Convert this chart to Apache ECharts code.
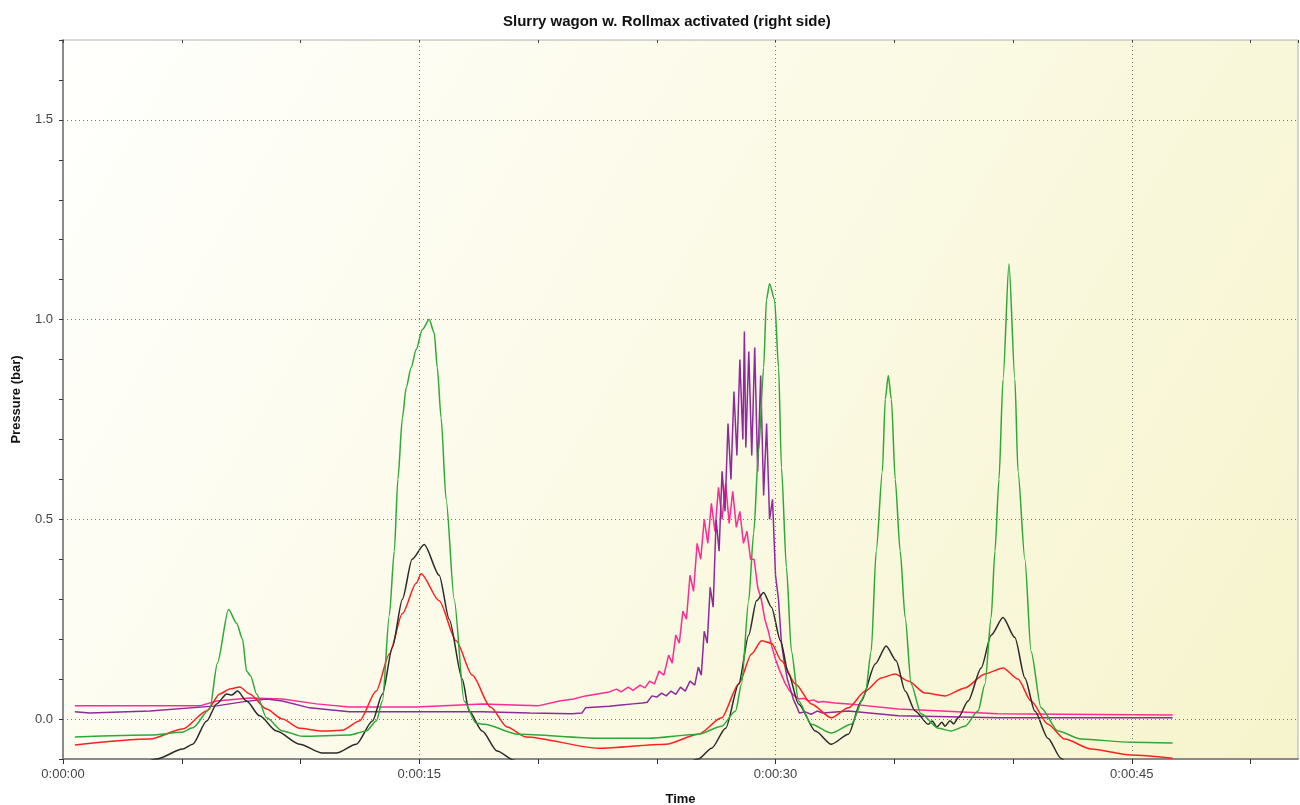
<!DOCTYPE html>
<html>
<head>
<meta charset="utf-8">
<title>Slurry wagon w. Rollmax activated (right side)</title>
<script src="https://cdn.jsdelivr.net/npm/echarts@6/dist/echarts.min.js"></script>
<style>
  html, body { margin: 0; padding: 0; background: #ffffff; }
  #main { width: 1300px; height: 805px; }
</style>
</head>
<body>
<div id="main"></div>
<script>
// time in seconds, pressure in bar
const greenPts = [
  [0.5, -0.045], [3.7, -0.04], [5.0, -0.033], [5.46, -0.022], [6.18, 0.025], [6.5, 0.14],
  [6.97, 0.274], [7.31, 0.24], [7.56, 0.20], [7.73, 0.12], [7.9, 0.108], [8.15, 0.063],
  [8.57, 0.003], [9.24, -0.03], [10.08, -0.043], [12.06, -0.04], [12.77, -0.03], [13.19, -0.005],
  [13.45, 0.045], [13.74, 0.26], [13.95, 0.42], [14.1, 0.60], [14.29, 0.754], [14.45, 0.83],
  [14.66, 0.88], [14.87, 0.925], [15.13, 0.975], [15.42, 1.0], [15.63, 0.967], [15.76, 0.88],
  [15.92, 0.754], [16.13, 0.55], [16.47, 0.30], [16.89, 0.045], [17.39, -0.01], [17.73, -0.013],
  [19.16, -0.038], [22.56, -0.048], [24.66, -0.048], [26.76, -0.038], [27.73, -0.018], [28.32, 0.02],
  [28.57, 0.088], [28.87, 0.296], [29.08, 0.465], [29.29, 0.673], [29.5, 0.88], [29.62, 1.05],
  [29.75, 1.09], [29.96, 1.05], [30.13, 0.88], [30.25, 0.63], [30.46, 0.38], [30.67, 0.17],
  [30.97, 0.045], [31.51, -0.013], [32.35, -0.035], [33.19, -0.013], [33.78, 0.063], [34.03, 0.17],
  [34.24, 0.42], [34.5, 0.62], [34.62, 0.80], [34.75, 0.86], [34.88, 0.80], [35.04, 0.60],
  [35.25, 0.42], [35.46, 0.254], [35.71, 0.088], [36.13, 0.013], [36.85, -0.023], [37.39, -0.03],
  [37.98, -0.018], [38.53, 0.02], [38.82, 0.088], [39.08, 0.254], [39.24, 0.42], [39.41, 0.60],
  [39.58, 0.85], [39.83, 1.14], [40.08, 0.85], [40.21, 0.62], [40.5, 0.40], [40.76, 0.17],
  [41.18, 0.028], [41.89, -0.03], [42.86, -0.05], [44.96, -0.058], [46.72, -0.06]
];
const blackPts = [
  [0.5, -0.16], [2.5, -0.13], [3.95, -0.1], [5.04, -0.075], [5.46, -0.063], [6.05, -0.005],
  [6.47, 0.038], [6.89, 0.063], [7.1, 0.06], [7.35, 0.07], [7.73, 0.045], [8.28, 0.008],
  [8.99, -0.03], [9.96, -0.063], [10.92, -0.085], [11.51, -0.085], [12.35, -0.063], [13.03, -0.005],
  [13.45, 0.063], [13.87, 0.18], [14.29, 0.30], [14.7, 0.40], [15.21, 0.437], [15.84, 0.36],
  [16.26, 0.25], [16.81, 0.10], [17.1, 0.02], [17.65, -0.03], [18.28, -0.08],
  [18.99, -0.103], [20.0, -0.14], [25.0, -0.15], [26.76, -0.1], [27.31, -0.073], [27.9, -0.023],
  [28.45, 0.088], [28.87, 0.21], [29.2, 0.296], [29.5, 0.317], [29.83, 0.28], [30.21, 0.196],
  [30.55, 0.113], [30.97, 0.038], [31.68, -0.03], [32.35, -0.063], [33.07, -0.038], [33.61, 0.045],
  [34.2, 0.138], [34.66, 0.183], [35.08, 0.146], [35.46, 0.07], [35.88, 0.02], [36.43, -0.013],
  [36.6, -0.005], [36.8, -0.02], [37.0, -0.008], [37.14, -0.018], [37.35, -0.004], [37.5, -0.012],
  [37.69, 0.003], [38.11, 0.045], [38.66, 0.128], [39.08, 0.21], [39.58, 0.254], [40.08, 0.204],
  [40.5, 0.103], [40.92, 0.02], [41.47, -0.048], [42.02, -0.098], [42.5, -0.13], [46.72, -0.2]
];
const redPts = [
  [0.5, -0.065], [3.66, -0.05], [5.04, -0.025], [6.05, 0.02], [6.6, 0.063], [7.02, 0.075],
  [7.44, 0.08], [7.86, 0.063], [8.57, 0.025], [9.24, 0.0], [9.96, -0.023], [10.92, -0.03],
  [11.76, -0.028], [12.48, -0.005], [13.19, 0.07], [13.74, 0.163], [14.29, 0.264], [14.87, 0.34],
  [15.08, 0.364], [15.84, 0.296], [16.55, 0.196], [17.23, 0.11], [18.0, 0.03], [18.7, -0.02],
  [19.5, -0.045], [22.56, -0.073], [25.38, -0.063], [26.76, -0.038], [27.73, 0.003], [28.45, 0.088],
  [28.99, 0.163], [29.41, 0.196], [29.83, 0.19], [30.25, 0.146], [30.84, 0.088], [31.51, 0.038],
  [32.35, 0.003], [33.07, 0.028], [33.78, 0.07], [34.45, 0.103], [35.04, 0.113], [35.59, 0.095],
  [36.3, 0.065], [37.14, 0.058], [37.98, 0.078], [38.82, 0.113], [39.58, 0.128], [40.21, 0.10],
  [40.76, 0.045], [41.47, -0.013], [42.18, -0.05], [43.28, -0.075], [44.96, -0.09], [46.72, -0.098]
];
const pinkPts = [
  [0.5, 0.033], [5.76, 0.033], [6.47, 0.045], [7.86, 0.053], [9.24, 0.05], [10.67, 0.038],
  [12.06, 0.03], [14.87, 0.03], [17.65, 0.038], [20.0, 0.033], [20.9, 0.045], [21.5, 0.05],
  [22.0, 0.058], [22.5, 0.063], [23.0, 0.068], [23.3, 0.075], [23.5, 0.068], [23.8, 0.08],
  [24.0, 0.072], [24.3, 0.085], [24.5, 0.078], [24.7, 0.095], [24.9, 0.088], [25.1, 0.12],
  [25.3, 0.11], [25.5, 0.16], [25.65, 0.14], [25.8, 0.21], [25.95, 0.19], [26.1, 0.27],
  [26.25, 0.25], [26.4, 0.36], [26.55, 0.32], [26.7, 0.44], [26.85, 0.40], [27.0, 0.50],
  [27.15, 0.44], [27.3, 0.54], [27.45, 0.47], [27.6, 0.58], [27.75, 0.50], [27.9, 0.59],
  [28.05, 0.49], [28.2, 0.57], [28.35, 0.48], [28.5, 0.52], [28.65, 0.44], [28.8, 0.47],
  [28.95, 0.40], [29.1, 0.40], [29.25, 0.33], [29.4, 0.30], [29.55, 0.25], [29.7, 0.22],
  [29.85, 0.18], [30.0, 0.15], [30.15, 0.125], [30.4, 0.09], [30.6, 0.07], [30.8, 0.058],
  [31.0, 0.05], [31.2, 0.052], [31.4, 0.045], [31.6, 0.048], [31.8, 0.042], [32.0, 0.044],
  [32.5, 0.04], [33.07, 0.038], [35.17, 0.025], [37.0, 0.02], [39.37, 0.013], [42.0, 0.012],
  [46.72, 0.01]
];
const purplePts = [
  [0.5, 0.018], [1.13, 0.015], [3.66, 0.02], [6.47, 0.033], [7.56, 0.043], [8.57, 0.05],
  [9.24, 0.045], [10.38, 0.028], [12.06, 0.018], [17.65, 0.018], [19.66, 0.015], [21.43, 0.013],
  [21.85, 0.015], [22.0, 0.028], [22.5, 0.030], [23.0, 0.032], [23.5, 0.035], [24.0, 0.038],
  [24.4, 0.040], [24.6, 0.042], [24.8, 0.058], [25.0, 0.055], [25.2, 0.065], [25.4, 0.058],
  [25.6, 0.070], [25.8, 0.062], [26.0, 0.080], [26.2, 0.070], [26.4, 0.095], [26.6, 0.085],
  [26.75, 0.13], [26.875, 0.11], [27.0, 0.22], [27.125, 0.19], [27.25, 0.33], [27.375, 0.28],
  [27.5, 0.50], [27.625, 0.42], [27.75, 0.62], [27.875, 0.52], [28.0, 0.74], [28.125, 0.60],
  [28.25, 0.82], [28.375, 0.66], [28.5, 0.90], [28.625, 0.70], [28.69, 0.97], [28.75, 0.68],
  [28.875, 0.92], [29.0, 0.66], [29.125, 0.93], [29.25, 0.62], [29.375, 0.86], [29.5, 0.56],
  [29.625, 0.74], [29.75, 0.50], [29.875, 0.55], [30.0, 0.36], [30.125, 0.30], [30.25, 0.19],
  [30.375, 0.14], [30.5, 0.10], [30.625, 0.075], [30.75, 0.05], [30.9, 0.03], [31.0, 0.015],
  [31.25, 0.018], [31.5, 0.012], [31.75, 0.02], [32.0, 0.015], [33.07, 0.02], [35.17, 0.008],
  [39.37, 0.003], [46.72, 0.003]
];
const xGridValues = [15, 30, 45];
const yGridValues = [0, 0.5, 1.0, 1.5];

function timeLabel(v) {
  if (Math.abs(v % 15) > 1e-6) return '';
  const s = Math.round(v);
  return '0:00:' + (s < 10 ? '0' + s : s);
}

const myChart = echarts.init(document.getElementById('main'));
const gridLineStyle = { color: '#777', width: 1, type: [1, 3] };
const fontFam = 'Liberation Sans, Arial, sans-serif';
const labelFont = { color: '#444', fontSize: 13, fontFamily: fontFam };
const nameFont = { color: '#111', fontSize: 13, fontWeight: 'bold', fontFamily: fontFam };

function lineSeries(name, pts, color, smooth) {
  return {
    name: name,
    type: 'line',
    data: pts,
    showSymbol: false,
    smooth: smooth ? 0.25 : false,
    smoothMonotone: smooth ? 'x' : undefined,
    clip: true,
    lineStyle: { color: color, width: 1.5 },
    itemStyle: { color: color },
    emphasis: { disabled: true }
  };
}

const series = [
  lineSeries('s4', pinkPts, '#ff2a93', false),
  lineSeries('s5', purplePts, '#8e2a9c', false),
  lineSeries('s3', redPts, '#ff2020', true),
  lineSeries('s2', blackPts, '#2a2a2a', true),
  lineSeries('s1', greenPts, '#2fa836', true)
];
series[0].markLine = {
  silent: true,
  symbol: 'none',
  label: { show: false },
  lineStyle: gridLineStyle,
  data: xGridValues.map(v => ({ xAxis: v })).concat(yGridValues.map(v => ({ yAxis: v })))
};

const option = {
  animation: false,
  backgroundColor: '#ffffff',
  title: {
    text: 'Slurry wagon w. Rollmax activated (right side)',
    left: 498,
    top: 9,
    textStyle: { color: '#111', fontSize: 15, fontWeight: 'bold', fontFamily: fontFam }
  },
  grid: {
    left: 63,
    right: 2,
    top: 40,
    bottom: 46,
    outerBoundsMode: 'none',
    containLabel: false,
    show: true,
    borderColor: '#b0b0b0',
    borderWidth: 1,
    backgroundColor: new echarts.graphic.LinearGradient(0, 0, 1, 1, [
      { offset: 0, color: '#fffffd' },
      { offset: 0.5, color: '#fbfae6' },
      { offset: 1, color: '#f6f4cc' }
    ])
  },
  xAxis: [
    {
      type: 'value',
      min: 0,
      max: 52,
      interval: 5,
      name: 'Time',
      nameLocation: 'middle',
      nameGap: 34,
      nameTextStyle: nameFont,
      axisLine: { show: true, onZero: false, lineStyle: { color: '#8a8a8a', width: 2 } },
      axisTick: { show: true, length: 5, lineStyle: { color: '#333' } },
      axisLabel: Object.assign({ formatter: timeLabel, margin: 9, showMaxLabel: false }, labelFont),
      splitLine: { show: false }
    },
    {
      type: 'value',
      position: 'top',
      min: 0,
      max: 52,
      interval: 5,
      axisLine: { show: false, onZero: false },
      axisTick: { show: true, inside: true, length: 3, lineStyle: { color: '#444' } },
      axisLabel: { show: false },
      splitLine: { show: false }
    }
  ],
  yAxis: {
    type: 'value',
    min: -0.1,
    max: 1.7,
    interval: 0.1,
    name: 'Pressure (bar)',
    nameLocation: 'middle',
    nameGap: 40,
    nameTextStyle: nameFont,
    axisLine: { show: true, onZero: false, lineStyle: { color: '#8a8a8a', width: 2 } },
    axisTick: { show: true, length: 4, lineStyle: { color: '#333' } },
    axisLabel: Object.assign({
      margin: 10,
      formatter: function (v) {
        const d = v * 2;
        if (Math.abs(d - Math.round(d)) > 1e-6 || v < -1e-6) return '';
        return v.toFixed(1);
      }
    }, labelFont),
    splitLine: { show: false }
  },
  series: series
};

myChart.setOption(option);
</script>
</body>
</html>
